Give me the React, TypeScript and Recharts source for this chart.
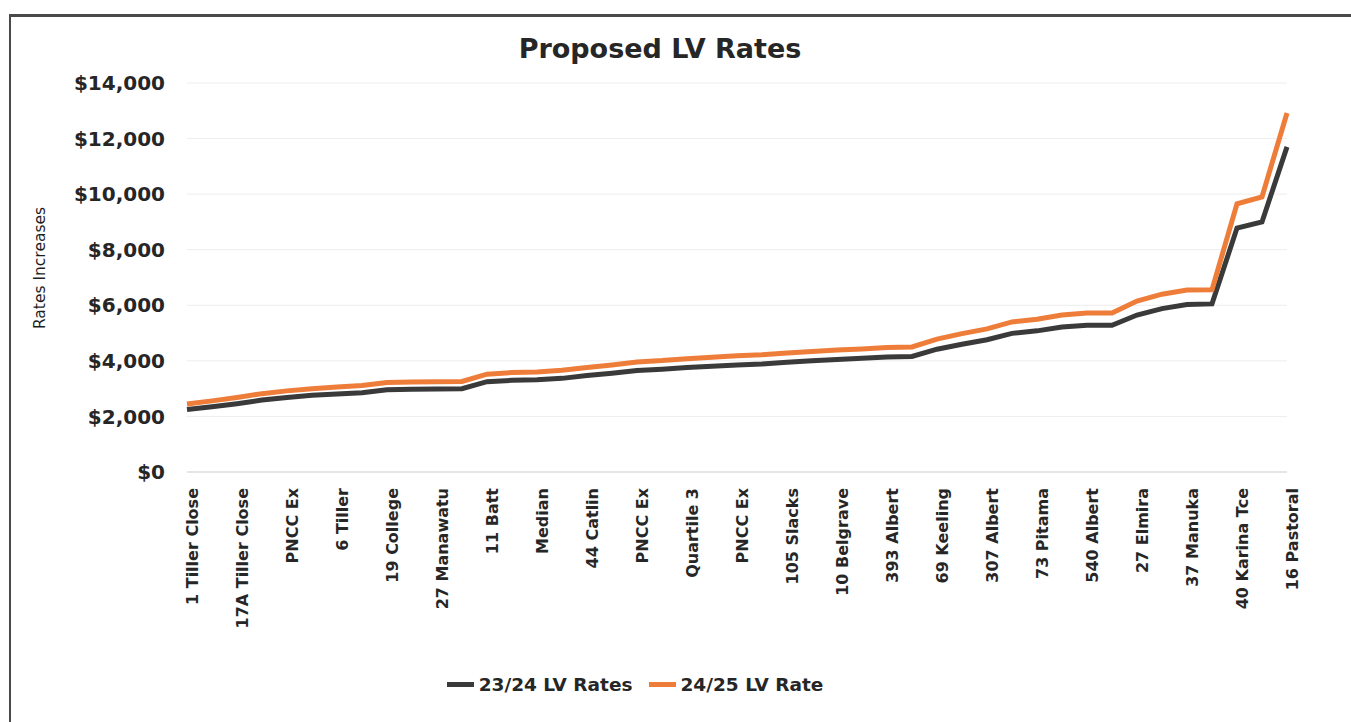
import { LineChart, Line, XAxis, YAxis, CartesianGrid, Legend } from 'recharts'

// property labels, only every second one is printed on the axis
const locations = [
  '1 Tiller Close', '', '17A Tiller Close', '', 'PNCC Ex', '', '6 Tiller', '',
  '19 College', '', '27 Manawatu', '', '11 Batt', '', 'Median', '',
  '44 Catlin', '', 'PNCC Ex', '', 'Quartile 3', '', 'PNCC Ex', '',
  '105 Slacks', '', '10 Belgrave', '', '393 Albert', '', '69 Keeling', '',
  '307 Albert', '', '73 Pitama', '', '540 Albert', '', '27 Elmira', '',
  '37 Manuka', '', '40 Karina Tce', '', '16 Pastoral',
]

const rates2324 = [
  2250, 2350, 2460, 2590, 2680, 2760, 2810, 2850, 2960, 2980,
  2990, 3000, 3250, 3300, 3320, 3370, 3470, 3550, 3650, 3700,
  3760, 3810, 3850, 3890, 3950, 4000, 4050, 4090, 4140, 4160,
  4420, 4600, 4760, 4990, 5080, 5220, 5280, 5280, 5650, 5880,
  6030, 6050, 8780, 9000, 11700,
]

const rates2425 = [
  2450, 2560, 2680, 2820, 2920, 3000, 3060, 3110, 3220, 3240,
  3250, 3260, 3520, 3580, 3600, 3660, 3760, 3850, 3960, 4010,
  4080, 4130, 4180, 4220, 4280, 4340, 4390, 4430, 4480, 4500,
  4780, 4980, 5150, 5400, 5500, 5650, 5720, 5720, 6150, 6400,
  6550, 6560, 9650, 9900, 12920,
]

const yTicks = [0, 2000, 4000, 6000, 8000, 10000, 12000, 14000]

const data = locations.map((name, i) => ({
  name,
  r2324: rates2324[i],
  r2425: rates2425[i],
}))

const FONT = '"DejaVu Sans", Arial, sans-serif'
const INK = '#262626'

const fmtDollar = (v: number) => '$' + v.toLocaleString('en-US')

const renderLegend = (props: any) => {
  const items = props.payload || []
  return (
    <div style={{ display: 'flex', justifyContent: 'center', alignItems: 'center', height: 50, gap: 16 }}>
      {items.map((it: any) => (
        <div key={it.value} style={{ display: 'flex', alignItems: 'center', gap: 5 }}>
          <div style={{ width: 27, height: 5, background: it.color }} />
          <span style={{ fontFamily: FONT, fontWeight: 'bold', fontSize: 18.5, color: INK }}>
            {it.value}
          </span>
        </div>
      ))}
    </div>
  )
}

export default function App() {
  return (
    <div style={{ position: 'absolute', left: 0, top: 0, width: 1351, height: 722, background: '#fff', overflow: 'hidden' }}>
      {/* frame of the scanned chart box */}
      <div style={{
        position: 'absolute', left: 9, top: 14, width: 1351, height: 722,
        borderTop: '3px solid #4a4a4a', borderLeft: '2px solid #4a4a4a',
      }} />

      <div style={{
        position: 'absolute', left: 0, width: 1320, top: 33, textAlign: 'center',
        fontFamily: FONT, fontWeight: 'bold', fontSize: 27, color: INK,
      }}>
        Proposed LV Rates
      </div>

      <div style={{
        position: 'absolute', left: 40, top: 268, transform: 'translate(-50%, -50%) rotate(-90deg)',
        whiteSpace: 'nowrap', fontFamily: FONT, fontSize: 15.5, color: '#1e1e1e',
      }}>
        Rates Increases
      </div>

      <div style={{ position: 'absolute', left: 0, top: 0 }}>
        <LineChart width={1351} height={722} data={data} margin={{ top: 83, right: 64, bottom: 0, left: 0 }}>
          <CartesianGrid vertical={false} stroke="#ededed" />
          <XAxis
            dataKey="name"
            interval={1}
            height={200}
            tickLine={false}
            tickMargin={10}
            axisLine={{ stroke: '#d6d6d6' }}
            angle={-90}
            textAnchor="end"
            tick={{ fontFamily: FONT, fontWeight: 'bold', fontSize: 16, fill: INK }}
          />
          <YAxis
            width={187}
            domain={[0, 14000]}
            ticks={yTicks}
            tickFormatter={fmtDollar}
            axisLine={false}
            tickLine={false}
            tickMargin={16}
            tick={{ fontFamily: FONT, fontWeight: 'bold', fontSize: 20, fill: INK }}
          />
          <Legend
            verticalAlign="bottom"
            height={50}
            content={renderLegend}
            wrapperStyle={{ bottom: 13, left: 0, width: 1270 }}
          />
          <Line
            type="linear"
            dataKey="r2324"
            name="23/24 LV Rates"
            stroke="#3a3a3a"
            strokeWidth={5}
            dot={false}
            isAnimationActive={false}
          />
          <Line
            type="linear"
            dataKey="r2425"
            name="24/25 LV Rate"
            stroke="#ee7d3a"
            strokeWidth={5}
            dot={false}
            isAnimationActive={false}
          />
        </LineChart>
      </div>
    </div>
  )
}
